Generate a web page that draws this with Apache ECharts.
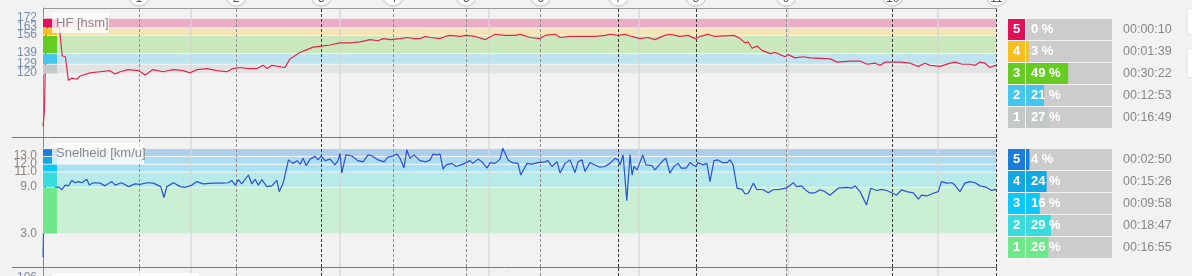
<!DOCTYPE html>
<html><head><meta charset="utf-8">
<script src="https://cdn.jsdelivr.net/npm/echarts@6/dist/echarts.min.js"></script>
<style>html,body{margin:0;padding:0;background:#f2f2f2;overflow:hidden}#c{width:1192px;height:276px;}</style>
</head><body><div id="c"></div>
<script>
// ---------- data ----------
const hrPoints = [[8,71],[14,86],[20,161],[28,164],[36,167],[45,163],[57,164],[74,163],[85,137],[98,136],
[110,114],[124,116],[144,115],[157,118],[197,121],[237,122],[277,123],[298,120],[318,122],[350,124],
[393,123],[418,119],[450,124],[490,122],[530,124],[571,123],[599,121],[627,124],[667,125],[707,123],
[747,122],[771,125],[800,126],[832,125],[868,125],[892,128],[908,125],[928,128],[980,126],[1000,134],
[1040,140],[1061,142],[1093,145],[1125,146],[1161,147],[1201,149],[1241,149],[1282,150],[1322,152],[1354,151],
[1374,153],[1402,152],[1442,153],[1474,154],[1494,153],[1523,153],[1543,155],[1563,154],[1603,153],[1623,155],
[1643,156],[1684,155],[1708,156],[1744,155],[1784,152],[1824,157],[1864,156],[1905,156],[1925,157],[1965,154],
[2005,153],[2025,156],[2065,157],[2085,154],[2126,155],[2166,155],[2226,155],[2266,156],[2286,157],[2318,156],
[2346,157],[2374,155],[2406,153],[2438,154],[2466,152],[2506,156],[2527,157],[2567,155],[2599,156],[2627,153],
[2647,155],[2679,157],[2707,155],[2784,156],[2808,153],[2828,149],[2840,150],[2856,144],[2876,146],[2896,142],
[2929,139],[2949,140],[2969,138],[2989,136],[3001,138],[3029,135],[3061,136],[3089,135],[3170,134],[3198,131],
[3250,132],[3290,132],[3298,133],[3318,129],[3350,130],[3371,128],[3391,131],[3423,131],[3451,131],[3491,130],
[3523,127],[3551,130],[3571,128],[3611,127],[3652,130],[3672,131],[3700,129],[3732,129],[3752,128],[3772,131],
[3792,130],[3812,126],[3833,128],[3838,128]];

const speedPoints = [[8,0],[14,8.8],[34,10.6],[61,8.9],[70,9.1],[84,8.7],[97,9.3],[110,9.2],[124,9.9],[137,9.6],
[150,9.75],[164,9.6],[184,10.05],[194,9.3],[210,9.6],[237,9.55],[257,9.2],[284,9.75],[298,9.3],[324,9.6],
[351,9.1],[378,9.45],[398,9.4],[425,9.6],[451,9.55],[481,9.1],[494,7.7],[505,9.1],[532,9.6],[559,9.1],
[579,9.0],[606,9.3],[626,9.75],[652,9.45],[692,9.55],[726,9.55],[753,9.6],[766,9.9],[780,9.3],[793,10.0],
[806,9.45],[833,10.6],[847,9.45],[860,10.05],[873,9.3],[887,10.0],[907,9.1],[927,9.2],[947,9.9],[957,8.45],
[973,9.6],[994,12.55],[1012,12.1],[1029,12.45],[1041,12.0],[1053,12.75],[1065,11.8],[1081,12.65],[1101,13.0],[1113,12.55],
[1125,13.05],[1141,12.45],[1161,12.65],[1181,11.9],[1193,12.45],[1201,13.4],[1208,10.85],[1225,13.2],[1249,13.05],[1273,12.45],
[1294,12.3],[1314,13.2],[1330,13.05],[1354,12.55],[1378,12.3],[1394,12.9],[1414,13.05],[1430,13.3],[1442,12.75],[1458,11.5],
[1469,13.85],[1482,12.75],[1498,13.2],[1522,12.45],[1547,12.3],[1563,12.55],[1575,13.3],[1591,13.2],[1603,13.3],[1615,11.35],
[1627,11.9],[1651,12.1],[1667,11.7],[1695,12.0],[1707,12.2],[1723,12.45],[1735,12.1],[1755,12.65],[1771,12.3],[1792,11.5],
[1804,12.2],[1824,12.1],[1844,12.65],[1855,14.05],[1876,12.55],[1892,12.2],[1916,12.1],[1927,10.6],[1952,12.1],[1972,12.0],
[1996,12.2],[2024,12.3],[2036,12.45],[2052,11.7],[2073,12.3],[2085,10.85],[2105,12.1],[2125,12.55],[2145,10.9],[2157,12.3],
[2173,12.55],[2185,11.05],[2205,12.2],[2225,11.9],[2245,11.6],[2265,11.7],[2285,12.1],[2306,12.75],[2318,12.55],[2326,11.9],
[2338,13.2],[2353,7.3],[2366,13.2],[2374,10.6],[2382,11.7],[2394,11.25],[2417,13.2],[2430,11.9],[2454,11.8],[2466,11.25],
[2486,12.0],[2498,12.45],[2510,12.75],[2526,10.85],[2542,11.7],[2559,12.1],[2571,11.5],[2591,11.5],[2607,12.2],[2619,11.9],
[2631,11.7],[2639,12.2],[2659,11.9],[2675,12.1],[2687,9.75],[2703,12.45],[2719,12.55],[2736,12.2],[2756,12.2],[2767,12.55],
[2780,11.9],[2788,10.4],[2796,8.9],[2816,8.75],[2828,8.15],[2841,8.25],[2861,9.55],[2875,8.75],[2901,8.7],[2921,8.3],
[2941,8.7],[2968,8.75],[2993,8.9],[3022,9.6],[3035,9.1],[3055,9.2],[3068,8.75],[3086,8.3],[3109,8.3],[3129,8.7],
[3149,8.45],[3169,8.0],[3202,8.9],[3236,9.0],[3256,8.9],[3270,9.2],[3290,8.45],[3316,6.75],[3333,8.9],[3357,8.6],
[3377,8.75],[3397,8.6],[3421,8.25],[3437,8.0],[3457,8.7],[3477,8.45],[3504,8.3],[3524,7.5],[3537,8.0],[3558,7.9],
[3584,8.25],[3604,8.45],[3617,9.75],[3638,9.55],[3658,9.6],[3671,9.3],[3691,8.45],[3711,9.55],[3731,9.75],[3752,9.6],
[3772,9.2],[3798,9.0],[3819,8.6],[3832,8.75],[3838,8.7]];

const lapTimes  = [393,784,1126,1414,1708,2007,2320,2630,2993,3421,3838];
const lapLabels = ['1','2','3','4','5','6','7','8','9','10','11'];
const lapDark   = [false,false,true,false,false,false,true,true,false,true,true];
const gridTimes = [600,1200,1800,2400,3000,3600];

const hrBounds = [120,129,139,156,163,172];          // zone 1..5 boundaries
const hrTickLabels = [120,129,139,156,163,172];
const spBounds = [3,9,11,12,13,14];
const spTickLabels = [3,9,11,12,13];
const thirdTickLabel = '106';

const zoneNames = ['1','2','3','4','5'];
const hrZonePct  = [27,21,49,3,0];
const hrZoneTime = ['00:16:49','00:12:53','00:30:22','00:01:39','00:00:10'];
const spZonePct  = [26,29,16,24,4];
const spZoneTime = ['00:16:55','00:18:47','00:09:58','00:15:26','00:02:50'];

const hrTitle = 'HF [hsm]';
const spTitle = 'Snelheid [km/u]';

// ---------- styles ----------
const hrZoneColor = ['#c3c9c9','#44c6ee','#66cc22','#f8bf1c','#e0105a'];
const hrBandColor = ['#e2e4e4','#bee4f0','#cbe7bc','#f6e2b3','#ebadc5'];
const spZoneColor = ['#6fe88c','#38dcdc','#0cc8fa','#12a9e3','#1b7ddb'];
const spBandColor = ['#caefd3','#b7ebea','#aae2f4','#addcf0','#adceeb'];
const FONT = 'Arial, "Liberation Sans", sans-serif';
const HR_LABEL = '#7b8daa', SP_LABEL = '#8e857e';

const chart = echarts.init(document.getElementById('c'), null, {renderer:'canvas'});

function bands(bounds, colors){
  const d=[];
  for(let i=0;i<bounds.length-1;i++){
    d.push([{yAxis:bounds[i], itemStyle:{color:colors[i], borderColor:'#f2f2f2', borderWidth:1}},{yAxis:bounds[i+1]}]);
  }
  return d;
}
function gridLines(){
  return gridTimes.map(t=>({xAxis:t, lineStyle:{color:'#d6d6d6', width:1.5, type:'solid', opacity:0.85}}));
}
function lapLines(){
  return lapTimes.map((t,i)=>({xAxis:t, lineStyle:{color: lapDark[i]?'#3a3a3a':'#8f8f8f', width:1, type:[3,2]}}));
}
function helper(idx, name, z, mark){
  const s = {type:'line', name, xAxisIndex:idx, yAxisIndex:idx, data:[], z, silent:true, animation:false};
  Object.assign(s, mark);
  return s;
}

const xBase = {type:'value', min:8, max:3840, show:false};
const yBase = {type:'value', splitLine:{show:false}, axisTick:{show:false}, axisLabel:{show:false},
  axisLine:{show:true, lineStyle:{color:'#8a8a8a'}}};

chart.setOption({
  backgroundColor:'#f2f2f2',
  animation:false,
  grid:[
    {left:43, top:8, width:954, height:129, outerBoundsMode:'none'},
    {left:43, top:137, width:954, height:130, outerBoundsMode:'none'},
    {left:43, top:267, width:954, height:9, outerBoundsMode:'none'}
  ],
  xAxis:[Object.assign({gridIndex:0},xBase),Object.assign({gridIndex:1},xBase),Object.assign({gridIndex:2},xBase)],
  yAxis:[
    Object.assign({gridIndex:0, min:61, max:181.6}, yBase),
    Object.assign({gridIndex:1, min:-1.26, max:15.5}, yBase),
    Object.assign({gridIndex:2, min:0, max:10}, yBase)
  ],
  series:[
    helper(0,'hrBands',1,{markArea:{silent:true, data:bands(hrBounds, hrBandColor)}}),
    helper(1,'spBands',1,{markArea:{silent:true, data:bands(spBounds, spBandColor)}}),
    helper(0,'g0',2,{markLine:{silent:true, symbol:['none','none'], label:{show:false}, data:gridLines()}}),
    helper(1,'g1',2,{markLine:{silent:true, symbol:['none','none'], label:{show:false}, data:gridLines()}}),
    helper(2,'g2',2,{markLine:{silent:true, symbol:['none','none'], label:{show:false}, data:gridLines()}}),
    helper(0,'l0',3,{markLine:{silent:true, symbol:['none','none'], label:{show:false}, data:lapLines()}}),
    helper(1,'l1',3,{markLine:{silent:true, symbol:['none','none'], label:{show:false}, data:lapLines()}}),
    helper(2,'l2',3,{markLine:{silent:true, symbol:['none','none'], label:{show:false}, data:lapLines()}}),
    {type:'line', name:'HF', xAxisIndex:0, yAxisIndex:0, data:hrPoints, showSymbol:false, z:5,
     lineStyle:{color:'#e0284f', width:1.2}},
    {type:'line', name:'Snelheid', xAxisIndex:1, yAxisIndex:1, data:speedPoints, showSymbol:false, z:5,
     lineStyle:{color:'#2a52d6', width:1.2}}
  ]
});

// ---------- graphic overlays ----------
const g = [];
const px = t => chart.convertToPixel({xAxisIndex:0}, t);
const pyHr = v => chart.convertToPixel({yAxisIndex:0}, v);
const pySp = v => chart.convertToPixel({yAxisIndex:1}, v);
const L = px(8), R = px(3840);

// y-axis tick labels (all drawn, overlapping as in the original)
hrTickLabels.forEach(v=>g.push({type:'text', x:L-6, y:pyHr(v)-1,
  style:{text:String(v), fill:HR_LABEL, font:'12px '+FONT, textAlign:'right', textVerticalAlign:'middle'}, z:9}));
spTickLabels.forEach(v=>g.push({type:'text', x:L-6, y:pySp(v)-0.5,
  style:{text:v.toFixed(1), fill:SP_LABEL, font:'12px '+FONT, textAlign:'right', textVerticalAlign:'middle'}, z:9}));
g.push({type:'text', x:L-6, y:278, style:{text:thirdTickLabel, fill:HR_LABEL, font:'12px '+FONT, textAlign:'right', textVerticalAlign:'middle'}, z:9});

// separator lines
g.push({type:'line', shape:{x1:L, y1:8.5, x2:R, y2:8.5}, style:{stroke:'#999', lineWidth:1}, z:10});
g.push({type:'line', shape:{x1:12, y1:137.5, x2:R, y2:137.5}, style:{stroke:'#7a7a7a', lineWidth:1}, z:10});
g.push({type:'line', shape:{x1:12, y1:267.5, x2:R, y2:267.5}, style:{stroke:'#7a7a7a', lineWidth:1}, z:10});

// left zone colour strips
function strips(bounds, colors, pyf){
  for(let i=0;i<bounds.length-1;i++){
    const y1 = pyf(bounds[i+1]), y2 = pyf(bounds[i]);
    g.push({type:'rect', shape:{x:L, y:y1+0.5, width:14, height:y2-y1-1}, style:{fill:colors[i]}, z:6});
  }
}
strips(hrBounds, hrZoneColor, pyHr);
strips(spBounds, spZoneColor, pySp);

// panel titles
function title(txt, x, y, w, h){
  g.push({type:'rect', shape:{x, y, width:w, height:h}, style:{fill:'rgba(255,255,255,0.78)'}, z:8});
  g.push({type:'text', x:x+4, y:y+h/2, style:{text:txt, fill:'#8a8a8a', font:'13px '+FONT, textVerticalAlign:'middle'}, z:9});
}
title(hrTitle, 52, 13, 57, 20);
title(spTitle, 52, 143, 92, 21);
g.push({type:'rect', shape:{x:52, y:273, width:147, height:20}, style:{fill:'rgba(255,255,255,0.85)'}, z:8});

// lap markers
lapTimes.forEach((t,i)=>{
  const x = px(t);
  g.push({type:'circle', shape:{cx:x, cy:-4, r:10}, style:{fill:'#fff', stroke:'#d4d4d4', lineWidth:1, shadowBlur:2, shadowColor:'rgba(0,0,0,0.15)'}, z:12});
  g.push({type:'text', x:x, y:-1, style:{text:lapLabels[i], fill:'#555', font:'12px '+FONT, textAlign:'center', textVerticalAlign:'middle'}, z:13});
});

// zone tables
function table(top, pct, times, colors){
  for(let r=0;r<5;r++){
    const z = 4-r;        // zone 5 at top
    const y = top + r*22;
    g.push({type:'rect', shape:{x:1008, y, width:17, height:21}, style:{fill:colors[z]}, z:10});
    g.push({type:'rect', shape:{x:1026, y, width:86, height:21}, style:{fill:'#cccccc'}, z:10});
    g.push({type:'rect', shape:{x:1026, y, width:86*pct[z]/100, height:21}, style:{fill:colors[z]}, z:11});
    g.push({type:'text', x:1016.5, y:y+10.5, style:{text:zoneNames[z], fill:'#fff', font:'bold 13px '+FONT, textAlign:'center', textVerticalAlign:'middle'}, z:12});
    g.push({type:'text', x:1031, y:y+10.5, style:{text:pct[z]+' %', fill:'#fff', font:'bold 13px '+FONT, textVerticalAlign:'middle'}, z:12});
    g.push({type:'text', x:1123, y:y+10.5, style:{text:times[z], fill:'#888', font:'12.5px '+FONT, textVerticalAlign:'middle'}, z:12});
  }
}
table(19, hrZonePct, hrZoneTime, hrZoneColor);
table(149, spZonePct, spZoneTime, spZoneColor);

// cut-off toolbar buttons at right edge
g.push({type:'rect', shape:{x:1187, y:8, width:20, height:27, r:3}, style:{fill:'#fff', stroke:'#e0e0e0'}, z:10});
g.push({type:'rect', shape:{x:1187, y:48, width:20, height:30, r:3}, style:{fill:'#fff', stroke:'#e0e0e0'}, z:10});

chart.setOption({graphic:g});
</script>
</body></html>
